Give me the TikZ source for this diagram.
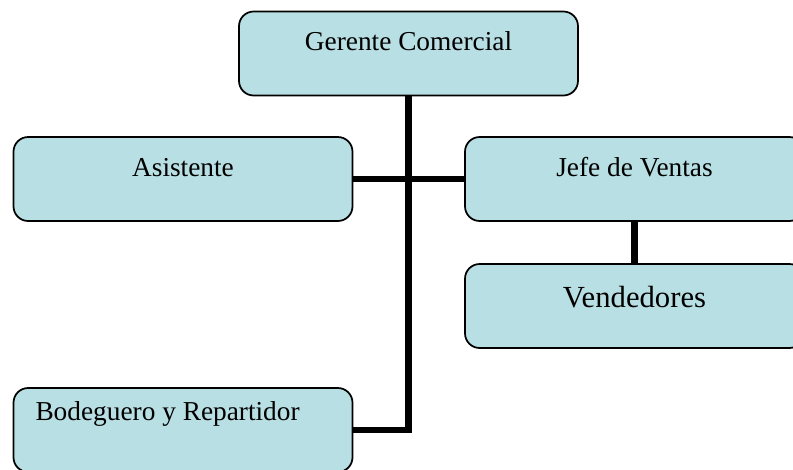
\documentclass[tikz,border=0pt]{standalone}
\usepackage{fontspec}
\setmainfont{Liberation Serif}
\definecolor{boxfill}{HTML}{B8DFE3}
\begin{document}
\begin{tikzpicture}[x=0.75pt,y=-0.75pt,
  orgbox/.style={draw=black, line width=1.3pt, fill=boxfill, rounded corners=11pt,
    minimum width=254.25pt, minimum height=63pt, inner sep=0pt, align=center,
    font=\fontsize{20.5}{24}\selectfont, text height=29.25pt, text depth=33.75pt},
  link/.style={line width=5.2pt}]
\useasboundingbox (0,0) rectangle (793,469);
\clip (0,0) rectangle (793,469);
\node[orgbox] (g) at (408.5,53.5) {Gerente Comercial};
\node[orgbox] (a) at (183,179) {Asistente};
\node[orgbox] (j) at (634.5,179) {Jefe de Ventas};
\node[orgbox, font=\fontsize{23}{27}\selectfont, text height=32.25pt, text depth=30.75pt] (v) at (634.5,306) {Vendedores};
\node[orgbox, align=flush left, inner xsep=16.5pt, inner ysep=0pt, text width=221.25pt,
  text height=24pt, text depth=39pt] (b) at (183,430) {Bodeguero y Repartidor};
\draw[link] (g.south) -- (g.south |- b.east) -- (b.east);
\draw[link] (a.east) -- (j.west);
\draw[link] (j.south) -- (v.north);
\end{tikzpicture}
\end{document}
